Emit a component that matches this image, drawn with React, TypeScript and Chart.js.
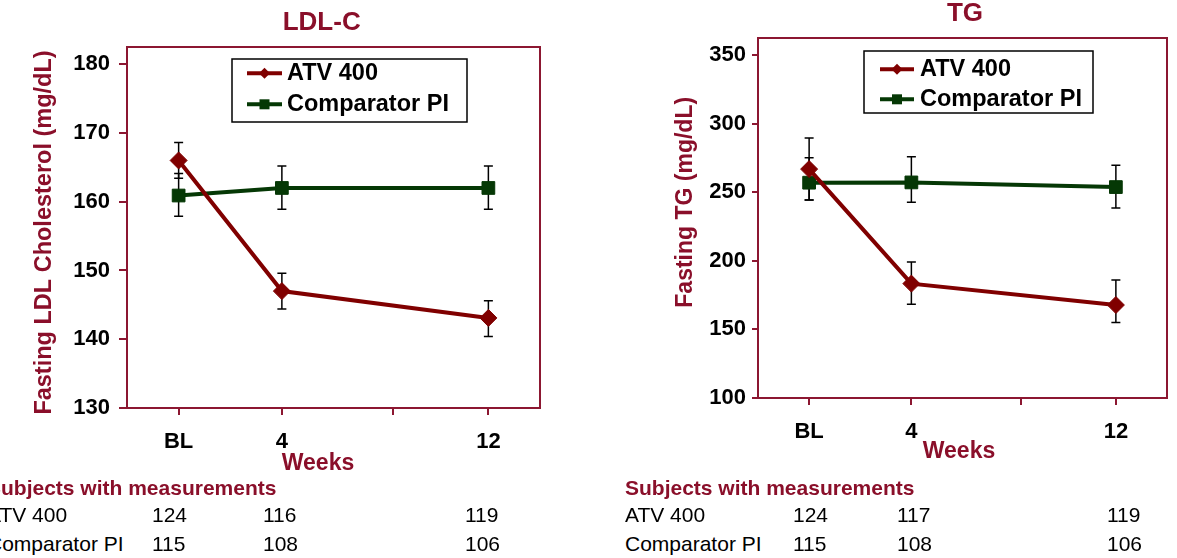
import React, { useEffect, useRef } from "react";
import { Chart, registerables } from "chart.js";

Chart.register(...registerables);

// ---------- data ----------
const WEEKS = [0, 4, 12];
const X_TICKS = [0, 4, 8.3, 12];
const X_TICK_LABELS = ["BL", "4", "", "12"];
const SERIES_NAMES = ["ATV 400", "Comparator PI"];

const LDL_ATV = [166, 147, 143.1];
const LDL_ATV_LOW = [163.4, 144.4, 140.4];
const LDL_ATV_HIGH = [168.6, 149.6, 145.6];
const LDL_CMP = [160.9, 162, 162];
const LDL_CMP_LOW = [157.9, 158.9, 158.9];
const LDL_CMP_HIGH = [164.1, 165.2, 165.2];
const LDL_Y_TICKS = [130, 140, 150, 160, 170, 180];

const TG_ATV = [266.9, 183.4, 167.8];
const TG_ATV_LOW = [244.4, 168.3, 155.0];
const TG_ATV_HIGH = [289.5, 199.1, 186.0];
const TG_CMP = [257, 257.2, 253.8];
const TG_CMP_LOW = [244.4, 242.7, 238.6];
const TG_CMP_HIGH = [275.1, 275.9, 269.8];
const TG_Y_TICKS = [100, 150, 200, 250, 300, 350];

const TABLE_TITLE = "Subjects with measurements";
const LDL_N_ATV = [124, 116, 119];
const LDL_N_CMP = [115, 108, 106];
const TG_N_ATV = [124, 117, 119];
const TG_N_CMP = [115, 108, 106];

// ---------- styles ----------
const FONT = '"Liberation Sans", Arial, Helvetica, sans-serif';
const FRAME = "#8c1731";
const TEXT_RED = "#8a0f2a";
const ATV_COLOR = "#800000";
const CMP_COLOR = "#053805";

type PanelCfg = {
  left: number; top: number; width: number; height: number;
  title: string; yTitle: string; xTitle: string;
  yMin: number; yMax: number; yTicks: number[];
  atv: number[]; atvLow: number[]; atvHigh: number[];
  cmp: number[]; cmpLow: number[]; cmpHigh: number[];
  area: { left: number; top: number; right: number; bottom: number };
  yTickLen: number; yTickPad: number; xTickLen: number; xTickPad: number;
  titlePos: [number, number]; titleSize: number;
  xTitlePos: [number, number]; xTitleSize: number;
  yTitlePos: [number, number]; yTitleSize: number;
  legend: { x: number; y: number; w: number; h: number; rows: number[]; sampleX: number; sampleW: number; textX: number; size: number };
};

const PANELS: PanelCfg[] = [
  {
    left: 0, top: 0, width: 590, height: 478,
    title: "LDL-C", yTitle: "Fasting LDL Cholesterol (mg/dL)", xTitle: "Weeks",
    yMin: 130, yMax: 182.5, yTicks: LDL_Y_TICKS,
    atv: LDL_ATV, atvLow: LDL_ATV_LOW, atvHigh: LDL_ATV_HIGH,
    cmp: LDL_CMP, cmpLow: LDL_CMP_LOW, cmpHigh: LDL_CMP_HIGH,
    area: { left: 127, top: 47, right: 540, bottom: 408 },
    yTickLen: 8, yTickPad: 9, xTickLen: 7, xTickPad: 14,
    titlePos: [321.7, 22.8], titleSize: 26,
    xTitlePos: [318, 464], xTitleSize: 23,
    yTitlePos: [45, 232.5], yTitleSize: 23.5,
    legend: { x: 232, y: 59, w: 235, h: 63, rows: [14.3, 45.3], sampleX: 15, sampleW: 35, textX: 55, size: 23.5 },
  },
  {
    left: 590, top: 0, width: 587, height: 478,
    title: "TG", yTitle: "Fasting TG (mg/dL)", xTitle: "Weeks",
    yMin: 100, yMax: 362.5, yTicks: TG_Y_TICKS,
    atv: TG_ATV, atvLow: TG_ATV_LOW, atvHigh: TG_ATV_HIGH,
    cmp: TG_CMP, cmpLow: TG_CMP_LOW, cmpHigh: TG_CMP_HIGH,
    area: { left: 758, top: 38, right: 1171, bottom: 398 },
    yTickLen: 6, yTickPad: 6, xTickLen: 7, xTickPad: 14,
    titlePos: [965, 14], titleSize: 26,
    xTitlePos: [959, 451.5], xTitleSize: 23,
    yTitlePos: [686, 202.3], yTitleSize: 23,
    legend: { x: 864, y: 51, w: 229, h: 62, rows: [18.3, 48.3], sampleX: 16, sampleW: 34, textX: 56, size: 23.5 },
  },
];

const TABLES = [
  { labelX: -13, cols: [152, 263, 465], rows: [LDL_N_ATV, LDL_N_CMP] },
  { labelX: 625, cols: [793, 897, 1107], rows: [TG_N_ATV, TG_N_CMP] },
];
const TABLE_Y = [488, 515, 544];

function drawMarker(ctx: CanvasRenderingContext2D, style: string, x: number, y: number, r: number) {
  ctx.beginPath();
  if (style === "rectRot") {
    ctx.moveTo(x - r, y);
    ctx.lineTo(x, y - r);
    ctx.lineTo(x + r, y);
    ctx.lineTo(x, y + r);
    ctx.closePath();
  } else {
    ctx.rect(x - r, y - r, 2 * r, 2 * r);
  }
  ctx.fill();
}

function makeDecor(cfg: PanelCfg) {
  const ox = cfg.left;
  const oy = cfg.top;
  return {
    id: "panelDecor",
    beforeDatasetsDraw(chart: any) {
      const { ctx, chartArea: a } = chart;
      ctx.save();
      ctx.strokeStyle = FRAME;
      ctx.lineWidth = 2;
      ctx.strokeRect(a.left, a.top, a.right - a.left, a.bottom - a.top);
      const xs = chart.scales.x;
      const ys = chart.scales.y;
      ctx.strokeStyle = "#000";
      ctx.lineWidth = 1.5;
      chart.data.datasets.forEach((ds: any) => {
        ds.data.forEach((p: any, i: number) => {
          const x = xs.getPixelForValue(p.x);
          const y1 = ys.getPixelForValue(ds.errLow[i]);
          const y2 = ys.getPixelForValue(ds.errHigh[i]);
          ctx.beginPath();
          ctx.moveTo(x, y1);
          ctx.lineTo(x, y2);
          ctx.moveTo(x - 4.5, y1);
          ctx.lineTo(x + 4.5, y1);
          ctx.moveTo(x - 4.5, y2);
          ctx.lineTo(x + 4.5, y2);
          ctx.stroke();
        });
      });
      ctx.restore();
    },
    afterDraw(chart: any) {
      const { ctx } = chart;
      ctx.save();
      ctx.fillStyle = TEXT_RED;
      ctx.textAlign = "center";
      ctx.textBaseline = "middle";
      ctx.font = `bold ${cfg.titleSize}px ${FONT}`;
      ctx.fillText(cfg.title, cfg.titlePos[0] - ox, cfg.titlePos[1] - oy);
      ctx.font = `bold ${cfg.xTitleSize}px ${FONT}`;
      ctx.fillText(cfg.xTitle, cfg.xTitlePos[0] - ox, cfg.xTitlePos[1] - oy);
      ctx.save();
      ctx.translate(cfg.yTitlePos[0] - ox, cfg.yTitlePos[1] - oy);
      ctx.rotate(-Math.PI / 2);
      ctx.font = `bold ${cfg.yTitleSize}px ${FONT}`;
      ctx.fillText(cfg.yTitle, 0, 0);
      ctx.restore();

      // legend
      const L = cfg.legend;
      const lx = L.x - ox;
      const ly = L.y - oy;
      ctx.fillStyle = "#fff";
      ctx.fillRect(lx, ly, L.w, L.h);
      ctx.strokeStyle = "#000";
      ctx.lineWidth = 1.5;
      ctx.strokeRect(lx, ly, L.w, L.h);
      chart.data.datasets.forEach((ds: any, i: number) => {
        const cy = ly + L.rows[i];
        ctx.strokeStyle = ds.borderColor;
        ctx.lineWidth = 4;
        ctx.beginPath();
        ctx.moveTo(lx + L.sampleX, cy);
        ctx.lineTo(lx + L.sampleX + L.sampleW, cy);
        ctx.stroke();
        ctx.fillStyle = ds.borderColor;
        drawMarker(ctx, ds.pointStyle, lx + L.sampleX + L.sampleW / 2, cy, ds.pointStyle === "rectRot" ? 5.5 : 5);
        ctx.fillStyle = "#000";
        ctx.textAlign = "left";
        ctx.font = `bold ${L.size}px ${FONT}`;
        ctx.fillText(ds.label, lx + L.textX, cy);
      });
      ctx.restore();
    },
  };
}

function Panel({ cfg }: { cfg: PanelCfg }) {
  const ref = useRef<HTMLCanvasElement>(null);
  useEffect(() => {
    const canvas = ref.current;
    if (!canvas) return;
    const toPts = (vals: number[]) => WEEKS.map((w, i) => ({ x: w, y: vals[i] }));
    const a = cfg.area;
    const relLeft = a.left - cfg.left;
    const relTop = a.top - cfg.top;
    const relRight = a.right - cfg.left;
    const relBottom = a.bottom - cfg.top;
    const chart = new Chart(canvas, {
      type: "line",
      data: {
        datasets: [
          {
            label: SERIES_NAMES[0],
            data: toPts(cfg.atv),
            borderColor: ATV_COLOR,
            backgroundColor: ATV_COLOR,
            borderWidth: 4,
            pointStyle: "rectRot",
            pointRadius: 8.5,
            pointBorderWidth: 1,
            pointBorderColor: ATV_COLOR,
            pointBackgroundColor: ATV_COLOR,
            tension: 0,
            errLow: cfg.atvLow,
            errHigh: cfg.atvHigh,
          } as any,
          {
            label: SERIES_NAMES[1],
            data: toPts(cfg.cmp),
            borderColor: CMP_COLOR,
            backgroundColor: CMP_COLOR,
            borderWidth: 4,
            pointStyle: "rect",
            pointRadius: 9,
            pointBorderWidth: 1,
            pointBorderColor: CMP_COLOR,
            pointBackgroundColor: CMP_COLOR,
            tension: 0,
            errLow: cfg.cmpLow,
            errHigh: cfg.cmpHigh,
          } as any,
        ],
      },
      options: {
        responsive: false,
        animation: false,
        devicePixelRatio: 1,
        layout: { padding: { top: relTop, right: cfg.width - relRight, left: 0, bottom: 0 } },
        plugins: {
          legend: { display: false },
          title: { display: false },
          tooltip: { enabled: false },
        },
        scales: {
          x: {
            type: "linear",
            position: "bottom",
            min: -2,
            max: 14,
            afterBuildTicks: (s: any) => {
              s.ticks = X_TICKS.map((v) => ({ value: v }));
            },
            afterFit: (s: any) => {
              s.height = cfg.height - relBottom;
            },
            ticks: {
              autoSkip: false,
              maxRotation: 0,
              padding: cfg.xTickPad,
              color: "#000",
              font: { family: FONT, size: 22, weight: "bold" },
              callback: (_v: any, i: number) => X_TICK_LABELS[i],
            },
            grid: { display: true, drawOnChartArea: false, drawTicks: true, tickLength: cfg.xTickLen, color: FRAME, lineWidth: 2 },
            border: { display: false },
          },
          y: {
            type: "linear",
            min: cfg.yMin,
            max: cfg.yMax,
            afterBuildTicks: (s: any) => {
              s.ticks = cfg.yTicks.map((v) => ({ value: v }));
            },
            afterFit: (s: any) => {
              s.width = relLeft;
            },
            ticks: {
              padding: cfg.yTickPad,
              color: "#000",
              font: { family: FONT, size: 22, weight: "bold" },
              callback: (v: any) => String(v),
            },
            grid: { display: true, drawOnChartArea: false, drawTicks: true, tickLength: cfg.yTickLen, color: FRAME, lineWidth: 2 },
            border: { display: false },
          },
        },
      } as any,
      plugins: [makeDecor(cfg)],
    });
    return () => chart.destroy();
  }, [cfg]);
  return (
    <canvas
      ref={ref}
      width={cfg.width}
      height={cfg.height}
      style={{ position: "absolute", left: cfg.left, top: cfg.top, width: cfg.width, height: cfg.height }}
    />
  );
}

function Table({ t }: { t: (typeof TABLES)[number] }) {
  const cell = (text: string, x: number, y: number, bold = false, color = "#000", key?: string) => (
    <div
      key={key}
      style={{
        position: "absolute",
        left: x,
        top: y - 12,
        height: 24,
        lineHeight: "24px",
        fontFamily: FONT,
        fontSize: 21,
        fontWeight: bold ? "bold" : "normal",
        color,
        whiteSpace: "nowrap",
      }}
    >
      {text}
    </div>
  );
  return (
    <>
      {cell(TABLE_TITLE, t.labelX, TABLE_Y[0], true, TEXT_RED, "h")}
      {t.rows.map((row, r) => (
        <React.Fragment key={r}>
          {cell(SERIES_NAMES[r], t.labelX, TABLE_Y[r + 1], false, "#000", `l${r}`)}
          {row.map((n, c) => cell(String(n), t.cols[c], TABLE_Y[r + 1], false, "#000", `c${r}-${c}`))}
        </React.Fragment>
      ))}
    </>
  );
}

export default function App() {
  return (
    <div
      style={{
        position: "fixed",
        left: 0,
        top: 0,
        width: 1177,
        height: 558,
        background: "#fff",
        overflow: "hidden",
      }}
    >
      {PANELS.map((p, i) => (
        <Panel key={i} cfg={p} />
      ))}
      {TABLES.map((t, i) => (
        <Table key={i} t={t} />
      ))}
    </div>
  );
}
